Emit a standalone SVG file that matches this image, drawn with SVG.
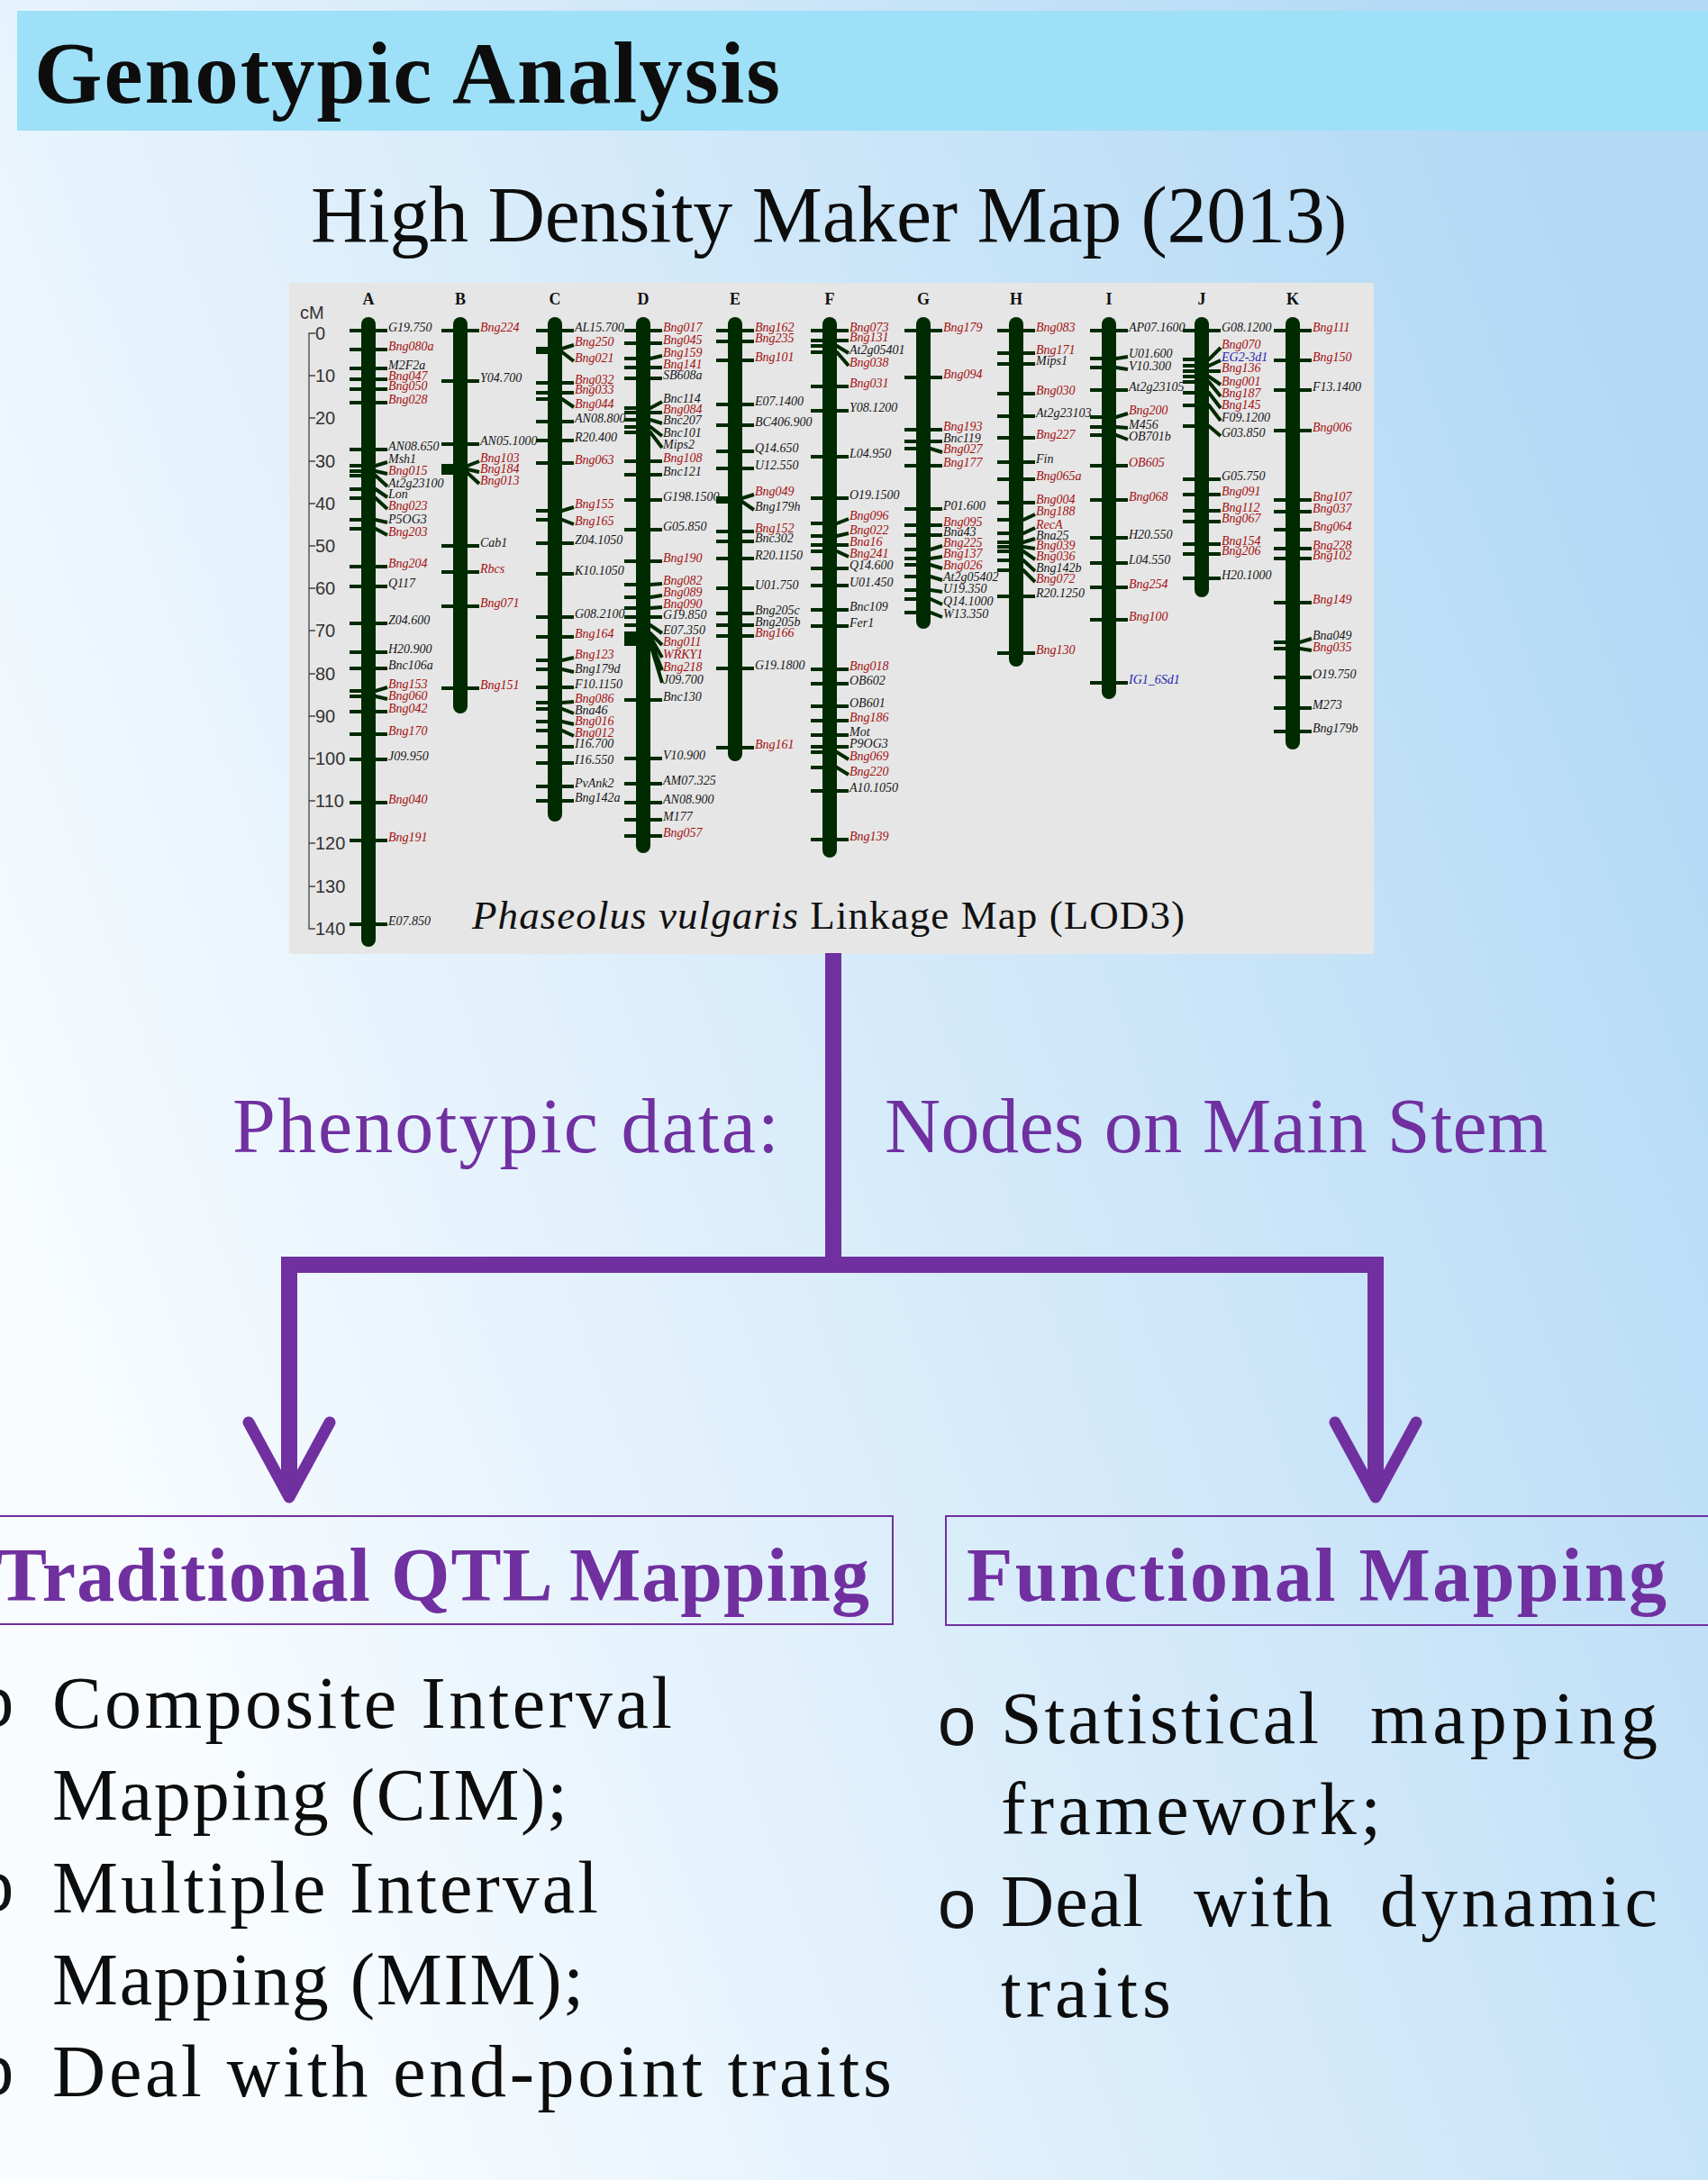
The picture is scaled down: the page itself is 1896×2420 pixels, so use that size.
<svg xmlns="http://www.w3.org/2000/svg" width="1896" height="2420" viewBox="0 0 1896 2420">
<defs>
<linearGradient id="bgg" gradientUnits="userSpaceOnUse" x1="0" y1="1400" x2="1896" y2="700">
<stop offset="0" stop-color="#f8fcff"/>
<stop offset="1" stop-color="#b3d9f5"/>
</linearGradient>
<marker id="chev" viewBox="-90 -55 110 110" refX="0" refY="0" markerWidth="110" markerHeight="110" markerUnits="userSpaceOnUse" orient="auto">
<path d="M-71 -45L12 0L-71 45" fill="none" stroke="#7030a0" stroke-width="13" stroke-linecap="round" stroke-linejoin="round"/>
</marker>
<style>
.mk{fill:none;stroke:#002a00;stroke-width:4}
.ch{fill:#002a00}
.k,.r,.b{font-family:"Liberation Serif","Times New Roman",serif;font-style:italic;font-size:14px}
.k{fill:#161616}.r{fill:#a40f0f}.b{fill:#1f1fb0}
.cl{font-family:"Liberation Serif",serif;font-weight:bold;font-size:18px;text-anchor:middle;fill:#111}
.ax{font-family:"Liberation Sans",Arial,sans-serif;font-size:20px;fill:#333}
.sf{font-family:"Liberation Serif","Times New Roman",serif;fill:#0d0d0d}
.pu{fill:#7030a0}
.conn{fill:none;stroke:#7030a0;stroke-width:18}
.box{fill:none;stroke:#7030a0;stroke-width:2}
.bul{font-family:"Liberation Sans",Arial,sans-serif;font-size:76px;fill:#111}
</style>
</defs>
<rect width="1896" height="2420" fill="url(#bgg)"/>

<g id="header">
<rect x="19" y="12" width="1877" height="133" fill="#9ee0f7"/>
<text class="sf" x="38" y="114" font-size="97" font-weight="bold" textLength="828">Genotypic Analysis</text>
</g>

<g id="subtitle">
<text class="sf" x="345" y="268" font-size="88" textLength="1150">High Density Maker Map (2013<tspan font-size="74">)</tspan></text>
</g>

<g id="map">
<rect x="321" y="314" width="1204" height="745" fill="#e6e6e6"/>
<g id="axis">
<text class="ax" x="333" y="354" font-size="29">cM</text>
<path d="M350 370H343V1031H350M343 417h7M343 464h7M343 512h7M343 559h7M343 606h7M343 653h7M343 700h7M343 748h7M343 795h7M343 842h7M343 889h7M343 936h7M343 984h7" fill="none" stroke="#444" stroke-width="1.3"/>
<text class="ax" x="350" y="377">0</text>
<text class="ax" x="350" y="424">10</text>
<text class="ax" x="350" y="471">20</text>
<text class="ax" x="350" y="519">30</text>
<text class="ax" x="350" y="566">40</text>
<text class="ax" x="350" y="613">50</text>
<text class="ax" x="350" y="660">60</text>
<text class="ax" x="350" y="707">70</text>
<text class="ax" x="350" y="755">80</text>
<text class="ax" x="350" y="802">90</text>
<text class="ax" x="350" y="849">100</text>
<text class="ax" x="350" y="896">110</text>
<text class="ax" x="350" y="943">120</text>
<text class="ax" x="350" y="991">130</text>
<text class="ax" x="350" y="1038">140</text>
</g>

<g id="chr-A" transform="translate(409 0)">
<text class="cl" x="0" y="338">A</text>
<path class="mk" d="M-21 367H21M-21 388H21M-21 409H21M-21 421H21M-21 432H21M-21 447H21M-21 499H21M-21 517H8L21 513M-21 523H8L21 526M-21 528H8L21 540M-21 543H8L21 552M-21 553H8L21 565M-21 577H8L21 580M-21 587H8L21 594M-21 629H21M-21 651H21M-21 692H21M-21 724H21M-21 742H21M-21 767H8L21 763M-21 773H8L21 776M-21 790H21M-21 815H21M-21 843H21M-21 891H21M-21 933H21M-21 1026H21"/>
<rect class="ch" x="-8" y="352" width="16" height="699" rx="8"/>
<text class="k" x="22" y="368">G19.750</text>
<text class="r" x="22" y="389">Bng080a</text>
<text class="k" x="22" y="410">M2F2a</text>
<text class="r" x="22" y="422">Bng047</text>
<text class="r" x="22" y="433">Bng050</text>
<text class="r" x="22" y="448">Bng028</text>
<text class="k" x="22" y="500">AN08.650</text>
<text class="k" x="22" y="514">Msh1</text>
<text class="r" x="22" y="527">Bng015</text>
<text class="k" x="22" y="541">At2g23100</text>
<text class="k" x="22" y="553">Lon</text>
<text class="r" x="22" y="566">Bng023</text>
<text class="k" x="22" y="581">P5OG3</text>
<text class="r" x="22" y="595">Bng203</text>
<text class="r" x="22" y="630">Bng204</text>
<text class="k" x="22" y="652">Q117</text>
<text class="k" x="22" y="693">Z04.600</text>
<text class="k" x="22" y="725">H20.900</text>
<text class="k" x="22" y="743">Bnc106a</text>
<text class="r" x="22" y="764">Bng153</text>
<text class="r" x="22" y="777">Bng060</text>
<text class="r" x="22" y="791">Bng042</text>
<text class="r" x="22" y="816">Bng170</text>
<text class="k" x="22" y="844">J09.950</text>
<text class="r" x="22" y="892">Bng040</text>
<text class="r" x="22" y="934">Bng191</text>
<text class="k" x="22" y="1027">E07.850</text>
</g>

<g id="chr-B" transform="translate(511 0)">
<text class="cl" x="0" y="338">B</text>
<path class="mk" d="M-21 367H21M-21 423H21M-21 493H21M-21 517H8L21 512M-21 521H8L21 524M-21 525H8L21 537M-21 606H21M-21 635H21M-21 673H21M-21 764H21"/>
<rect class="ch" x="-8" y="352" width="16" height="440" rx="8"/>
<text class="r" x="22" y="368">Bng224</text>
<text class="k" x="22" y="424">Y04.700</text>
<text class="k" x="22" y="494">AN05.1000</text>
<text class="r" x="22" y="513">Bng103</text>
<text class="r" x="22" y="525">Bng184</text>
<text class="r" x="22" y="538">Bng013</text>
<text class="k" x="22" y="607">Cab1</text>
<text class="r" x="22" y="636">Rbcs</text>
<text class="r" x="22" y="674">Bng071</text>
<text class="r" x="22" y="765">Bng151</text>
</g>

<g id="chr-C" transform="translate(616 0)">
<text class="cl" x="0" y="338">C</text>
<path class="mk" d="M-21 367H21M-21 387H8L21 383M-21 391H8L21 401M-21 425H21M-21 436H21M-21 443H8L21 452M-21 468H21M-21 489H21M-21 514H21M-21 567H8L21 563M-21 577H8L21 582M-21 603H21M-21 637H21M-21 685H21M-21 707H21M-21 733H8L21 730M-21 743H8L21 746M-21 763H21M-21 780H8L21 779M-21 787H8L21 792M-21 801H8L21 804M-21 811H8L21 817M-21 829H21M-21 847H21M-21 873H21M-21 889H21"/>
<rect class="ch" x="-8" y="352" width="16" height="560" rx="8"/>
<text class="k" x="22" y="368">AL15.700</text>
<text class="r" x="22" y="384">Bng250</text>
<text class="r" x="22" y="402">Bng021</text>
<text class="r" x="22" y="426">Bng032</text>
<text class="r" x="22" y="437">Bng033</text>
<text class="r" x="22" y="453">Bng044</text>
<text class="k" x="22" y="469">AN08.800</text>
<text class="k" x="22" y="490">R20.400</text>
<text class="r" x="22" y="515">Bng063</text>
<text class="r" x="22" y="564">Bng155</text>
<text class="r" x="22" y="583">Bng165</text>
<text class="k" x="22" y="604">Z04.1050</text>
<text class="k" x="22" y="638">K10.1050</text>
<text class="k" x="22" y="686">G08.2100</text>
<text class="r" x="22" y="708">Bng164</text>
<text class="r" x="22" y="731">Bng123</text>
<text class="k" x="22" y="747">Bng179d</text>
<text class="k" x="22" y="764">F10.1150</text>
<text class="r" x="22" y="780">Bng086</text>
<text class="k" x="22" y="793">Bna46</text>
<text class="r" x="22" y="805">Bng016</text>
<text class="r" x="22" y="818">Bng012</text>
<text class="k" x="22" y="830">I16.700</text>
<text class="k" x="22" y="848">I16.550</text>
<text class="k" x="22" y="874">PvAnk2</text>
<text class="k" x="22" y="890">Bng142a</text>
</g>

<g id="chr-D" transform="translate(714 0)">
<text class="cl" x="0" y="338">D</text>
<path class="mk" d="M-21 367H21M-21 381H21M-21 398H8L21 395M-21 408H21M-21 420H21M-21 453H8L21 446M-21 458H21M-21 466H8L21 470M-21 474H8L21 484M-21 480H8L21 497M-21 512H21M-21 527H21M-21 555H21M-21 588H21M-21 623H21M-21 649H8L21 648M-21 663H8L21 661M-21 675H8L21 674M-21 685H21M-21 694H8L21 703M-21 703H8L21 716M-21 707H8L21 730M-21 711H8L21 744M-21 715H8L21 758M-21 777H21M-21 842H21M-21 870H21M-21 891H21M-21 910H21M-21 928H21"/>
<rect class="ch" x="-8" y="352" width="16" height="595" rx="8"/>
<text class="r" x="22" y="368">Bng017</text>
<text class="r" x="22" y="382">Bng045</text>
<text class="r" x="22" y="396">Bng159</text>
<text class="r" x="22" y="409">Bng141</text>
<text class="k" x="22" y="421">SB608a</text>
<text class="k" x="22" y="447">Bnc114</text>
<text class="r" x="22" y="459">Bng084</text>
<text class="k" x="22" y="471">Bnc207</text>
<text class="k" x="22" y="485">Bnc101</text>
<text class="k" x="22" y="498">Mips2</text>
<text class="r" x="22" y="513">Bng108</text>
<text class="k" x="22" y="528">Bnc121</text>
<text class="k" x="22" y="556">G198.1500</text>
<text class="k" x="22" y="589">G05.850</text>
<text class="r" x="22" y="624">Bng190</text>
<text class="r" x="22" y="649">Bng082</text>
<text class="r" x="22" y="662">Bng089</text>
<text class="r" x="22" y="675">Bng090</text>
<text class="k" x="22" y="687">G19.850</text>
<text class="k" x="22" y="704">E07.350</text>
<text class="r" x="22" y="717">Bng011</text>
<text class="r" x="22" y="731">WRKY1</text>
<text class="r" x="22" y="745">Bng218</text>
<text class="k" x="22" y="759">J09.700</text>
<text class="k" x="22" y="778">Bnc130</text>
<text class="k" x="22" y="843">V10.900</text>
<text class="k" x="22" y="871">AM07.325</text>
<text class="k" x="22" y="892">AN08.900</text>
<text class="k" x="22" y="911">M177</text>
<text class="r" x="22" y="929">Bng057</text>
</g>

<g id="chr-E" transform="translate(816 0)">
<text class="cl" x="0" y="338">E</text>
<path class="mk" d="M-21 367H21M-21 379H21M-21 400H21M-21 449H21M-21 472H21M-21 501H21M-21 520H21M-21 553H8L21 549M-21 557H8L21 566M-21 590H21M-21 601H21M-21 620H21M-21 653H21M-21 681H21M-21 694H21M-21 706H21M-21 742H21M-21 830H21"/>
<rect class="ch" x="-8" y="352" width="16" height="493" rx="8"/>
<text class="r" x="22" y="368">Bng162</text>
<text class="r" x="22" y="380">Bng235</text>
<text class="r" x="22" y="401">Bng101</text>
<text class="k" x="22" y="450">E07.1400</text>
<text class="k" x="22" y="473">BC406.900</text>
<text class="k" x="22" y="502">Q14.650</text>
<text class="k" x="22" y="521">U12.550</text>
<text class="r" x="22" y="550">Bng049</text>
<text class="k" x="22" y="567">Bng179h</text>
<text class="r" x="22" y="591">Bng152</text>
<text class="k" x="22" y="602">Bnc302</text>
<text class="k" x="22" y="621">R20.1150</text>
<text class="k" x="22" y="654">U01.750</text>
<text class="k" x="22" y="682">Bng205c</text>
<text class="k" x="22" y="695">Bng205b</text>
<text class="r" x="22" y="707">Bng166</text>
<text class="k" x="22" y="743">G19.1800</text>
<text class="r" x="22" y="831">Bng161</text>
</g>

<g id="chr-F" transform="translate(921 0)">
<text class="cl" x="0" y="338">F</text>
<path class="mk" d="M-21 367H21M-21 378H21M-21 384H8L21 392M-21 391H8L21 406M-21 429H21M-21 456H21M-21 507H21M-21 553H21M-21 581H8L21 576M-21 595H8L21 592M-21 605H21M-21 612H8L21 618M-21 631H21M-21 650H21M-21 677H21M-21 695H21M-21 743H21M-21 759H21M-21 784H21M-21 800H21M-21 816H21M-21 829H21M-21 835H8L21 843M-21 852H8L21 860M-21 878H21M-21 932H21"/>
<rect class="ch" x="-8" y="352" width="16" height="600" rx="8"/>
<text class="r" x="22" y="368">Bng073</text>
<text class="r" x="22" y="379">Bng131</text>
<text class="k" x="22" y="393">At2g05401</text>
<text class="r" x="22" y="407">Bng038</text>
<text class="r" x="22" y="430">Bng031</text>
<text class="k" x="22" y="457">Y08.1200</text>
<text class="k" x="22" y="508">L04.950</text>
<text class="k" x="22" y="554">O19.1500</text>
<text class="r" x="22" y="577">Bng096</text>
<text class="r" x="22" y="593">Bng022</text>
<text class="r" x="22" y="606">Bna16</text>
<text class="r" x="22" y="619">Bng241</text>
<text class="k" x="22" y="632">Q14.600</text>
<text class="k" x="22" y="651">U01.450</text>
<text class="k" x="22" y="678">Bnc109</text>
<text class="k" x="22" y="696">Fer1</text>
<text class="r" x="22" y="744">Bng018</text>
<text class="k" x="22" y="760">OB602</text>
<text class="k" x="22" y="785">OB601</text>
<text class="r" x="22" y="801">Bng186</text>
<text class="k" x="22" y="817">Mot</text>
<text class="k" x="22" y="830">P9OG3</text>
<text class="r" x="22" y="844">Bng069</text>
<text class="r" x="22" y="861">Bng220</text>
<text class="k" x="22" y="879">A10.1050</text>
<text class="r" x="22" y="933">Bng139</text>
</g>

<g id="chr-G" transform="translate(1025 0)">
<text class="cl" x="0" y="338">G</text>
<path class="mk" d="M-21 367H21M-21 419H21M-21 477H21M-21 490H21M-21 498H8L21 502M-21 517H21M-21 565H21M-21 583H21M-21 594H21M-21 610H8L21 606M-21 620H8L21 618M-21 627H8L21 631M-21 640H8L21 644M-21 655H8L21 657M-21 665H8L21 671M-21 680H8L21 685"/>
<rect class="ch" x="-8" y="352" width="16" height="346" rx="8"/>
<text class="r" x="22" y="368">Bng179</text>
<text class="r" x="22" y="420">Bng094</text>
<text class="r" x="22" y="478">Bng193</text>
<text class="k" x="22" y="491">Bnc119</text>
<text class="r" x="22" y="503">Bng027</text>
<text class="r" x="22" y="518">Bng177</text>
<text class="k" x="22" y="566">P01.600</text>
<text class="r" x="22" y="584">Bng095</text>
<text class="k" x="22" y="595">Bna43</text>
<text class="r" x="22" y="607">Bng225</text>
<text class="r" x="22" y="619">Bng137</text>
<text class="r" x="22" y="632">Bng026</text>
<text class="k" x="22" y="645">At2g05402</text>
<text class="k" x="22" y="658">U19.350</text>
<text class="k" x="22" y="672">Q14.1000</text>
<text class="k" x="22" y="686">W13.350</text>
</g>

<g id="chr-H" transform="translate(1128 0)">
<text class="cl" x="0" y="338">H</text>
<path class="mk" d="M-21 367H21M-21 392H21M-21 404H21M-21 437H21M-21 462H21M-21 486H21M-21 513H21M-21 532H21M-21 558H21M-21 577H8L21 571M-21 592H8L21 586M-21 602H8L21 598M-21 607H8L21 609M-21 612H8L21 621M-21 622H8L21 634M-21 633H8L21 646M-21 662H21M-21 725H21"/>
<rect class="ch" x="-8" y="352" width="16" height="388" rx="8"/>
<text class="r" x="22" y="368">Bng083</text>
<text class="r" x="22" y="393">Bng171</text>
<text class="k" x="22" y="405">Mips1</text>
<text class="r" x="22" y="438">Bng030</text>
<text class="k" x="22" y="463">At2g23103</text>
<text class="r" x="22" y="487">Bng227</text>
<text class="k" x="22" y="514">Fin</text>
<text class="r" x="22" y="533">Bng065a</text>
<text class="r" x="22" y="559">Bng004</text>
<text class="r" x="22" y="572">Bng188</text>
<text class="r" x="22" y="587">RecA</text>
<text class="k" x="22" y="599">Bna25</text>
<text class="r" x="22" y="610">Bng039</text>
<text class="r" x="22" y="622">Bng036</text>
<text class="k" x="22" y="635">Bng142b</text>
<text class="r" x="22" y="647">Bng072</text>
<text class="k" x="22" y="663">R20.1250</text>
<text class="r" x="22" y="726">Bng130</text>
</g>

<g id="chr-I" transform="translate(1231 0)">
<text class="cl" x="0" y="338">I</text>
<path class="mk" d="M-21 367H21M-21 398H8L21 396M-21 408H8L21 410M-21 433H21M-21 463H8L21 459M-21 474H8L21 475M-21 483H8L21 488M-21 517H21M-21 555H21M-21 597H21M-21 625H21M-21 652H21M-21 688H21M-21 758H21"/>
<rect class="ch" x="-8" y="352" width="16" height="424" rx="8"/>
<text class="k" x="22" y="368">AP07.1600</text>
<text class="k" x="22" y="397">U01.600</text>
<text class="k" x="22" y="411">V10.300</text>
<text class="k" x="22" y="434">At2g23105</text>
<text class="r" x="22" y="460">Bng200</text>
<text class="k" x="22" y="476">M456</text>
<text class="k" x="22" y="489">OB701b</text>
<text class="r" x="22" y="518">OB605</text>
<text class="r" x="22" y="556">Bng068</text>
<text class="k" x="22" y="598">H20.550</text>
<text class="k" x="22" y="626">L04.550</text>
<text class="r" x="22" y="653">Bng254</text>
<text class="r" x="22" y="689">Bng100</text>
<text class="b" x="22" y="759">IG1_6Sd1</text>
</g>

<g id="chr-J" transform="translate(1334 0)">
<text class="cl" x="0" y="338">J</text>
<path class="mk" d="M-21 367H21M-21 399H8L21 386M-21 406H8L21 400M-21 412H21M-21 418H8L21 427M-21 424H8L21 440M-21 436H8L21 453M-21 450H8L21 467M-21 473H8L21 484M-21 532H21M-21 549H21M-21 567H21M-21 579H21M-21 604H21M-21 615H21M-21 642H21"/>
<rect class="ch" x="-8" y="352" width="16" height="311" rx="8"/>
<text class="k" x="22" y="368">G08.1200</text>
<text class="r" x="22" y="387">Bng070</text>
<text class="b" x="22" y="401">EG2-3d1</text>
<text class="r" x="22" y="413">Bng136</text>
<text class="r" x="22" y="428">Bng001</text>
<text class="r" x="22" y="441">Bng187</text>
<text class="r" x="22" y="454">Bng145</text>
<text class="k" x="22" y="468">F09.1200</text>
<text class="k" x="22" y="485">G03.850</text>
<text class="k" x="22" y="533">G05.750</text>
<text class="r" x="22" y="550">Bng091</text>
<text class="r" x="22" y="568">Bng112</text>
<text class="r" x="22" y="580">Bng067</text>
<text class="r" x="22" y="605">Bng154</text>
<text class="r" x="22" y="616">Bng206</text>
<text class="k" x="22" y="643">H20.1000</text>
</g>

<g id="chr-K" transform="translate(1435 0)">
<text class="cl" x="0" y="338">K</text>
<path class="mk" d="M-21 367H21M-21 400H21M-21 433H21M-21 478H21M-21 555H21M-21 568H21M-21 588H21M-21 609H21M-21 620H21M-21 669H21M-21 713H8L21 709M-21 720H8L21 722M-21 752H21M-21 786H21M-21 812H21"/>
<rect class="ch" x="-8" y="352" width="16" height="480" rx="8"/>
<text class="r" x="22" y="368">Bng111</text>
<text class="r" x="22" y="401">Bng150</text>
<text class="k" x="22" y="434">F13.1400</text>
<text class="r" x="22" y="479">Bng006</text>
<text class="r" x="22" y="556">Bng107</text>
<text class="r" x="22" y="569">Bng037</text>
<text class="r" x="22" y="589">Bng064</text>
<text class="r" x="22" y="610">Bng228</text>
<text class="r" x="22" y="621">Bng102</text>
<text class="r" x="22" y="670">Bng149</text>
<text class="k" x="22" y="710">Bna049</text>
<text class="r" x="22" y="723">Bng035</text>
<text class="k" x="22" y="753">O19.750</text>
<text class="k" x="22" y="787">M273</text>
<text class="k" x="22" y="813">Bng179b</text>
</g>

<text x="524" y="1031" font-family="'Liberation Serif', 'Times New Roman', serif" font-size="45" fill="#111" textLength="791"><tspan font-style="italic">Phaseolus vulgaris</tspan> Linkage Map (LOD3)</text>
</g>

<g id="connectors">
<path class="conn" d="M925 1058V1404"/>
<path class="conn" d="M925 1404H321V1650" marker-end="url(#chev)"/>
<path class="conn" d="M925 1404H1527V1650" marker-end="url(#chev)"/>
</g>

<g id="label-phenotypic">
<text class="sf pu" x="258" y="1279" font-size="86" textLength="607">Phenotypic data:</text>
</g>
<g id="label-nodes">
<text class="sf pu" x="982" y="1279" font-size="86" textLength="736">Nodes on Main Stem</text>
</g>

<g id="node-qtl">
<rect class="box" x="-2" y="1683" width="993" height="120"/>
<text class="sf pu" x="-4" y="1777" font-size="84" font-weight="bold" textLength="969">Traditional QTL Mapping</text>
</g>

<g id="node-functional">
<rect class="box" x="1050" y="1683" width="900" height="121"/>
<text class="sf pu" x="1073" y="1777" font-size="84" font-weight="bold" textLength="777">Functional Mapping</text>
</g>

<g id="list-qtl">
<text class="bul" x="-27" y="1916">o</text>
<text class="bul" x="-27" y="2121">o</text>
<text class="bul" x="-27" y="2325">o</text>
<text class="sf" x="58" y="1918" font-size="82" textLength="688">Composite Interval</text>
<text class="sf" x="58" y="2020" font-size="82" textLength="572">Mapping (CIM);</text>
<text class="sf" x="58" y="2123" font-size="82" textLength="606">Multiple Interval</text>
<text class="sf" x="58" y="2225" font-size="82" textLength="590">Mapping (MIM);</text>
<text class="sf" x="58" y="2327" font-size="82" textLength="932">Deal with end-point traits</text>
</g>

<g id="list-functional">
<text class="bul" x="1041" y="1937">o</text>
<text class="bul" x="1041" y="2140">o</text>
<text class="sf" y="1935" font-size="82"><tspan x="1111" textLength="353">Statistical</tspan><tspan x="1521" textLength="319">mapping</tspan></text>
<text class="sf" x="1111" y="2036" font-size="82" textLength="422">framework;</text>
<text class="sf" y="2138" font-size="82"><tspan x="1111" textLength="158">Deal</tspan><tspan x="1325" textLength="154">with</tspan><tspan x="1532" textLength="308">dynamic</tspan></text>
<text class="sf" x="1111" y="2239" font-size="82" textLength="189">traits</text>
</g>
</svg>
